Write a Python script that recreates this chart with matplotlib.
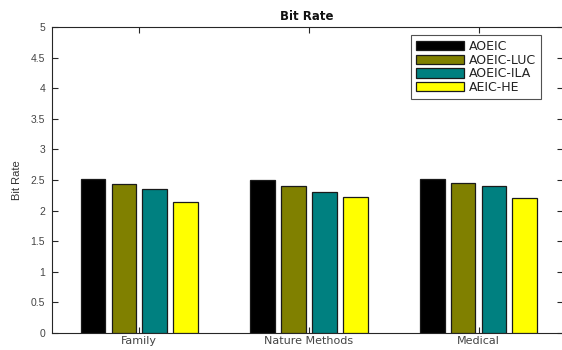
import matplotlib
matplotlib.use("Agg")
import matplotlib.pyplot as plt
import numpy as np

categories = ["Family", "Nature Methods", "Medical"]
series_names = ["AOEIC", "AOEIC-LUC", "AOEIC-ILA", "AEIC-HE"]
aoeic = [2.52, 2.50, 2.52]
aoeic_luc = [2.43, 2.40, 2.45]
aoeic_ila = [2.36, 2.30, 2.41]
aeic_he = [2.14, 2.23, 2.21]
colors = ["#000000", "#808000", "#008080", "#ffff00"]

series = [aoeic, aoeic_luc, aoeic_ila, aeic_he]

plt.rcParams['font.family'] = ['Liberation Sans', 'DejaVu Sans']

W, H = 562, 350
fig = plt.figure(figsize=(W / 100, H / 100), dpi=100)
l, r, b, t = 52, 562.5, 333, 27
ax = fig.add_axes([l / W, 1 - b / H, (r - l) / W, (b - t) / H])

x = np.arange(1, len(categories) + 1)
n = len(series)
step = min(0.8, n / (n + 1.5)) / n
width = step * 0.8
for i, (vals, name, c) in enumerate(zip(series, series_names, colors)):
    ax.bar(x + (i - (n - 1) / 2) * step, vals, width, color=c, edgecolor="#1a1a1a",
           linewidth=0.9, label=name, zorder=3)

ax.set_xlim(0.485, 3.495)
ax.set_ylim(0, 5)
ax.set_yticks(np.arange(0, 5.01, 0.5))
ax.set_yticklabels(["0", "0.5", "1", "1.5", "2", "2.5", "3", "3.5", "4", "4.5", "5"])
ax.set_xticks(x)
ax.set_xticklabels(categories, fontfamily="DejaVu Sans", fontsize=8)
ax.tick_params(direction="in", length=4, width=0.8, colors="#262626",
               labelcolor="#444444", top=True, right=True, pad=5)
ax.tick_params(axis="x", pad=2.5)
ax.tick_params(axis="y", labelsize=7.5)
for s in ax.spines.values():
    s.set_color("#262626")
    s.set_linewidth(0.8)

ax.set_ylabel("Bit Rate", fontsize=8, color="#333333", labelpad=6)
ax.set_title("Bit Rate", fontsize=8.5, fontweight="bold", color="#111111", pad=5,
             fontfamily="DejaVu Sans")

leg = ax.legend(loc="upper left", bbox_to_anchor=((411 - l) / (r - l), (b - 35) / (b - t)),
                prop={"family": "DejaVu Sans", "size": 9}, frameon=True, fancybox=False,
                edgecolor="#262626", handlelength=3.8, handleheight=0.8, labelspacing=0.05,
                handletextpad=0.4, borderpad=0.4, borderaxespad=0)
leg.get_frame().set_linewidth(0.8)
for txt in leg.get_texts():
    txt.set_color("#222222")

fig.savefig("out.png", dpi=100)
